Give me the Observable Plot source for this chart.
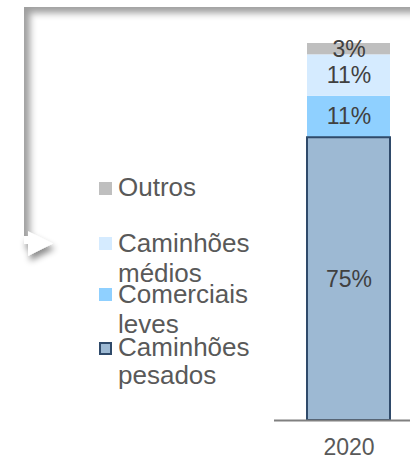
<!DOCTYPE html>
<html>
<head>
<meta charset="utf-8">
<script src="https://cdn.jsdelivr.net/npm/d3@7"></script>
<script src="https://cdn.jsdelivr.net/npm/@observablehq/plot@0.6"></script>
<style>
  html, body { margin: 0; padding: 0; background: #fff; }
  #wrap { position: relative; width: 410px; height: 459px; overflow: hidden; font-family: "Liberation Sans", Arial, sans-serif; }
  #frame { position: absolute; left: 24px; top: 7px; width: 420px; height: 231px; box-shadow: inset 7px 7px 7px -1px rgba(0,0,0,0.38); pointer-events: none; }
  #arrow { position: absolute; left: 0; top: 0; pointer-events: none; }
  .leg { position: absolute; left: 118px; font-size: 26px; line-height: 29px; color: #595959; white-space: nowrap; }
  .sw { position: absolute; left: 99px; width: 13px; height: 13px; box-sizing: border-box; }
</style>
</head>
<body>
<div id="wrap"></div>
<script>
// Data
const years = ["2020"];
const categories = ["Caminhões pesados", "Comerciais leves", "Caminhões médios", "Outros"]; // bottom to top
const values2020 = [75, 11, 11, 3];
const legendLabels = [["Caminhões", "pesados"], ["Comerciais", "leves"], ["Caminhões", "médios"], ["Outros"]];
const colors = ["#9DB9D3", "#8FD0FF", "#D5EBFF", "#BFBFBF"];

const data = categories.map((c, i) => ({year: years[0], cat: c, value: values2020[i]}));

const wrap = document.getElementById("wrap");

const plot = Plot.plot({
  width: 410,
  height: 459,
  marginTop: 43,
  marginBottom: 39,
  marginLeft: 274,
  marginRight: 0,
  style: {background: "transparent", fontFamily: "'Liberation Sans', Arial, sans-serif", color: "#595959"},
  x: {domain: years, padding: 0, axis: null},
  y: {domain: [0, 100], axis: null},
  color: {domain: categories, range: colors},
  marks: [
    Plot.barY(data, Plot.stackY({x: "year", y: "value", fill: "cat", order: categories, insetLeft: 33, insetRight: 20})),
    Plot.barY(data, Plot.stackY({x: "year", y: "value", z: "cat", order: categories, filter: d => d.cat === categories[0], fill: "none", stroke: "#2F4A6A", strokeWidth: 2, insetLeft: 33, insetRight: 20})),
    Plot.ruleY([0], {stroke: "#808080", strokeWidth: 2}),
    Plot.text(data, Plot.stackY({x: "year", y: "value", z: "cat", order: categories, text: d => d.value + "%", fill: "#404040", fontSize: 23, dx: 6.5})),
    Plot.axisX({domain: years, tickSize: 0, tickPadding: 18, fontSize: 23, dx: 6.5, label: null, fill: "#595959"})
  ]
});
wrap.appendChild(plot);

// Decorative frame
const frame = document.createElement("div");
frame.id = "frame";
wrap.appendChild(frame);

const arrow = document.createElementNS("http://www.w3.org/2000/svg", "svg");
arrow.setAttribute("id", "arrow");
arrow.setAttribute("width", "90");
arrow.setAttribute("height", "290");
arrow.innerHTML = `<defs><filter id="sh" x="-50%" y="-50%" width="200%" height="200%"><feDropShadow dx="2" dy="5" stdDeviation="3" flood-color="#000" flood-opacity="0.45"/></filter></defs>
<path d="M24,236 L28,236 L28,231 L53,243.5 L28,256 L28,244 L24,244 Z" fill="#fff" filter="url(#sh)"/>`;
wrap.appendChild(arrow);

// Legend (top to bottom in display order)
const legendTops = [333, 279, 228, 173];
categories.forEach((c, i) => {
  const sw = document.createElement("div");
  sw.className = "sw";
  sw.style.top = (legendTops[i] + 9) + "px";
  sw.style.background = colors[i];
  if (i === 0) sw.style.border = "2px solid #2F4A6A";
  wrap.appendChild(sw);
  const t = document.createElement("div");
  t.className = "leg";
  t.style.top = legendTops[i] + "px";
  t.innerHTML = legendLabels[i].join("<br>");
  if (i === 0) t.style.lineHeight = "28px";
  if (i !== 0 && legendLabels[i].length > 1) t.style.lineHeight = "30px";
  wrap.appendChild(t);
});
</script>
</body>
</html>
